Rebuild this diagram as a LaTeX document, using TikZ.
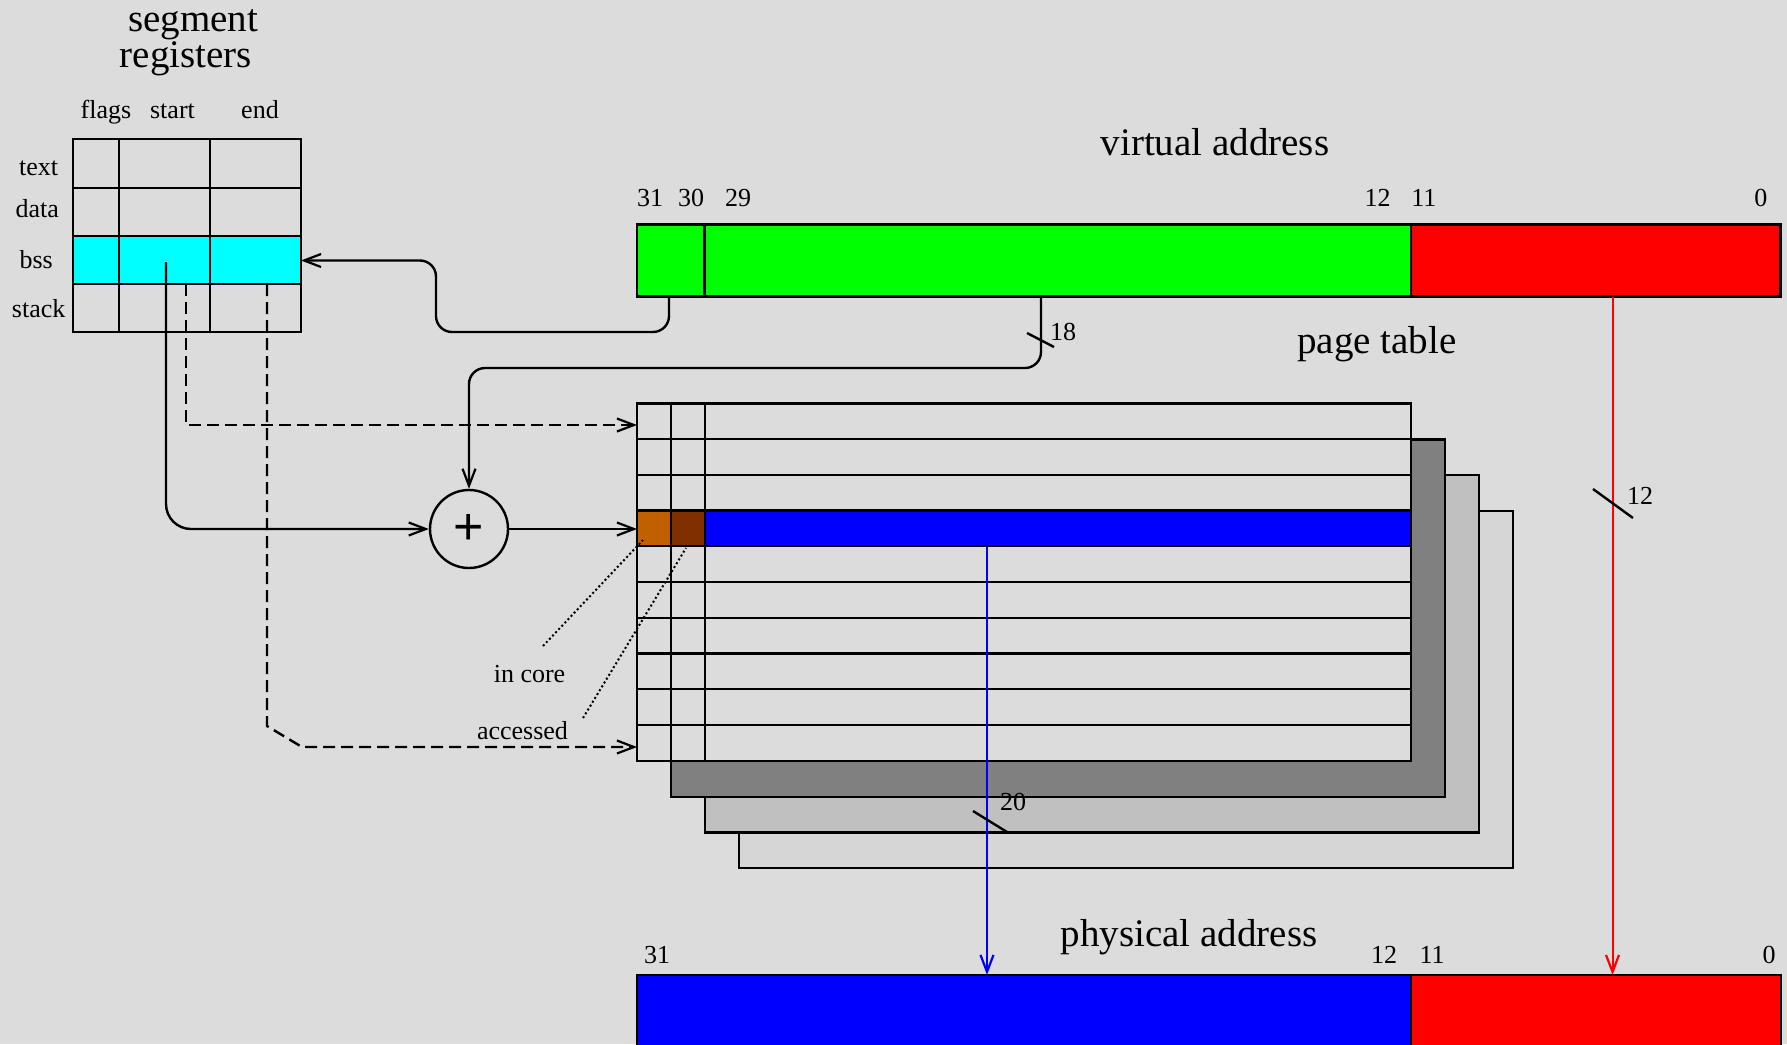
\documentclass[tikz,border=0pt]{standalone}
\usepackage{fontspec}
\setmainfont{Liberation Serif}
\newfontfamily\PlusFont{Liberation Sans}
\usetikzlibrary{arrows.meta}
\definecolor{bgc}{RGB}{220,220,220}
\definecolor{lay1}{RGB}{128,128,128}
\definecolor{lay2}{RGB}{192,192,192}
\definecolor{lay3}{RGB}{214,214,214}
\definecolor{incore}{RGB}{192,96,0}
\definecolor{accbit}{RGB}{128,48,0}
\definecolor{vgreen}{RGB}{0,255,0}
\definecolor{vred}{RGB}{255,0,0}
\definecolor{vblue}{RGB}{0,0,255}
\definecolor{vcyan}{RGB}{0,255,255}
\newcommand\BigLbl{\fontsize{39}{44}\selectfont}
\newcommand\SmallLbl{\fontsize{26}{30}\selectfont}
\newcommand\PlusLbl{\PlusFont\fontsize{52}{52}\selectfont}
\tikzset{
  ln/.style={line width=2.4pt},
  arr/.style={-{Straight Barb[length=17pt,width=13pt,line width=2.2pt]}},
  dsh/.style={dash pattern=on 12pt off 6pt},
  dots/.style={line width=2pt, dash pattern=on 2pt off 2.5pt},
  biglbl/.style={font=\BigLbl, anchor=base, inner sep=0pt},
  smalllbl/.style={font=\SmallLbl, anchor=base, inner sep=0pt},
  tickmark/.style={line width=2.4pt},
}
\begin{document}
\begin{tikzpicture}[x=1pt,y=-1pt]
\fill[bgc] (0,0) rectangle (1787,1044);
\useasboundingbox (0,0) rectangle (1787,1044);
\clip (0,0) rectangle (1787,1044);

% ---------- segment registers ----------
\node[biglbl] (lsegment) at (193,31) {segment};
\node[biglbl] (lregs) at (186,67) {registers};
\node[smalllbl] (lflags) at (106,118) {flags};
\node[smalllbl] (lstart) at (172.5,118) {start};
\node[smalllbl] (lend) at (260,118) {end};
\node[smalllbl] (ltext) at (38.7,175) {text};
\node[smalllbl] (ldata) at (37.2,217.3) {data};
\node[smalllbl] (lbss) at (36.2,268.3) {bss};
\node[smalllbl] (lstack) at (38.7,317.3) {stack};

\fill[vcyan] (73,236) rectangle (301,284);
\draw[ln] (73,139) rectangle (301,332);
\foreach \yy in {188,236,284} \draw[ln] (73,\yy) -- (301,\yy);
\foreach \xx in {119,210} \draw[ln] (\xx,139) -- (\xx,332);

% ---------- virtual address ----------
\node[biglbl] (lvirt) at (1215,155) {virtual address};
\node[smalllbl] (v31) at (650,206) {31};
\node[smalllbl] (v30) at (691,206) {30};
\node[smalllbl] (v29) at (738,206) {29};
\node[smalllbl] (v12) at (1377.7,206) {12};
\node[smalllbl] (v11) at (1423.8,206) {11};
\node[smalllbl] (v0) at (1760.8,206) {0};
\fill[vgreen] (637,224.5) rectangle (1411,296.5);
\fill[vred] (1411,224.5) rectangle (1780.5,296.5);
\draw[ln] (637,224.5) rectangle (1780.5,296.5);
\draw[ln] (704.5,224.5) -- (704.5,296.5);
\draw[ln] (1411,224.5) -- (1411,296.5);

% ---------- page table ----------
\node[biglbl] (lpage) at (1377,353) {page table};
\draw[ln, fill=lay3] (739,510.8) rectangle (1513,868.1);
\draw[ln, fill=lay2] (705,475.1) rectangle (1479,832.4);
\draw[ln, fill=lay1] (671,439.3) rectangle (1445,796.7);
\draw[ln, fill=bgc] (637,403.3) rectangle (1411,760.7);
\fill[incore] (637,510.8) rectangle (671,546.5);
\fill[accbit] (671,510.8) rectangle (705,546.5);
\fill[vblue] (705,510.8) rectangle (1411,546.5);
\draw[ln] (637,403.3) rectangle (1411,760.7);
\foreach \k in {1,...,9} \draw[ln] (637,{403.3+35.74*\k}) -- (1411,{403.3+35.74*\k});
\foreach \xx in {671,705} \draw[ln] (\xx,403.3) -- (\xx,760.7);

% ---------- physical address ----------
\node[biglbl] (lphys) at (1189,946.7) {physical address};
\node[smalllbl] (p31) at (657,963) {31};
\node[smalllbl] (p12) at (1384,963) {12};
\node[smalllbl] (p11) at (1432,963) {11};
\node[smalllbl] (p0) at (1769,963) {0};
\fill[vblue] (637,975) rectangle (1411,1060);
\fill[vred] (1411,975) rectangle (1781,1060);
\draw[ln] (637,1060) -- (637,975) -- (1781,975) -- (1781,1060);
\draw[ln] (1411,975) -- (1411,1060);

% ---------- adder ----------
\node[circle, draw, ln, minimum size=78pt, inner sep=0pt, font=\PlusLbl] (adder) at (469,529) {+};

% ---------- coordinates ----------
\coordinate (segR) at (301,260.5);
\coordinate (vaB31) at (669,296.5);
\coordinate (vaB18) at (1041,296.5);
\coordinate (vaB12) at (1612.5,296.5);
\coordinate (ptIn0) at (637,425);
\coordinate (ptInB) at (637,747);
\coordinate (ptRow) at (637,529);
\coordinate (ptOut) at (987,546.5);
\coordinate (paT20) at (987,975);
\coordinate (paT12) at (1612.5,975);
\coordinate (bssStart) at (166,262);
\coordinate (bssD1) at (186,284);
\coordinate (bssD2) at (267,284);

% ---------- connectors ----------
\draw[ln,arr,rounded corners=16pt] (vaB31) -- (669,332) -- (436,332) -- (436,260.5) -- (segR);
\draw[ln,arr,rounded corners=16pt] (vaB18) -- (1041,368) -- (469,368) -- (adder.north);
\draw[tickmark] (1027,333) -- (1054,347);
\node[smalllbl] (l18) at (1063,340) {18};

\draw[ln,arr,rounded corners=25pt] (bssStart) -- (166,529) -- (adder.west);
\draw[ln,arr] (adder.east) -- (ptRow);

\draw[ln,arr,dsh] (bssD1) -- (186,425) -- (ptIn0);
\draw[ln,arr,dsh] (bssD2) -- (267,726) -- (302,747) -- (ptInB);

\node[smalllbl] (lincore) at (529.5,682.7) {in core};
\node[smalllbl] (laccessed) at (522.5,739) {accessed};
\draw[dots] (543,646) -- (643,540);
\draw[dots] (583,718) -- (686,548);

\draw[vblue, line width=2pt, arr] (ptOut) -- (paT20);
\draw[tickmark] (973,811) -- (1007,832);
\node[smalllbl] (l20) at (1013,810.7) {20};

\draw[vred, line width=2pt, arr] (vaB12) -- (paT12);
\draw[tickmark] (1593,489) -- (1633,518);
\node[smalllbl] (l12) at (1640,504) {12};
\end{tikzpicture}
\end{document}
